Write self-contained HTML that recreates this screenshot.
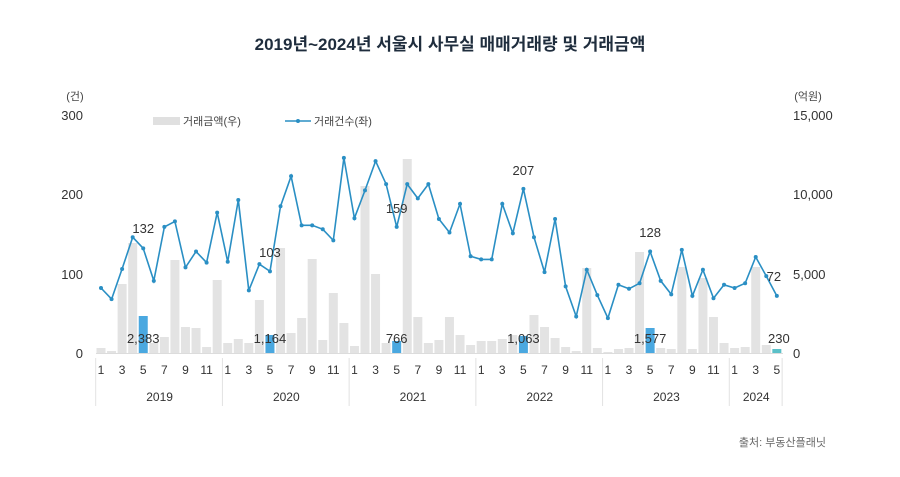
<!DOCTYPE html>
<html><head><meta charset="utf-8"><style>
body{margin:0;background:#fff;}
svg{display:block;font-family:"Liberation Sans","Noto Sans CJK KR",sans-serif;}
</style></head><body>
<svg id="c" width="900" height="477" viewBox="0 0 900 477" xmlns="http://www.w3.org/2000/svg">
<text x="450" y="50" text-anchor="middle" font-size="17" font-weight="bold" fill="#1f2d3d">2019년~2024년 서울시 사무실 매매거래량 및 거래금액</text>
<text x="75" y="100" text-anchor="middle" font-size="11" fill="#444">(건)</text>
<text x="808" y="100" text-anchor="middle" font-size="11" fill="#444">(억원)</text>
<g font-size="13" fill="#333" text-anchor="end">
<text x="83" y="120">300</text><text x="83" y="199">200</text><text x="83" y="279">100</text><text x="83" y="358">0</text>
</g>
<g font-size="13" fill="#333">
<text x="793" y="120">15,000</text><text x="793" y="199">10,000</text><text x="793" y="279">5,000</text><text x="793" y="358">0</text>
</g>
<rect x="153" y="117" width="27" height="8" fill="#e0e0e0"/>
<text x="183" y="125" font-size="11" fill="#444">거래금액(우)</text>
<line x1="285" y1="121" x2="311" y2="121" stroke="#2a8fc4" stroke-width="1.5"/>
<circle cx="298" cy="121" r="2" fill="#2a8fc4"/>
<text x="314" y="125" font-size="11" fill="#444">거래건수(좌)</text>
<text x="826" y="446" text-anchor="end" font-size="11" fill="#666">출처: 부동산플래닛</text>
<g id="g"></g>
</svg>
<script>
var line=[82,68,106,146,132,91,159,166,108,128,114,177,115,193,79,112,103,185,223,161,161,156,142,246,170,205,242,213,159,213,195,213,169,152,188,122,118,118,188,151,207,146,102,169,84,46,105,73,44,86,81,88,128,91,74,130,72,105,69,86,82,88,121,97,72];
var bars=[348,351,284,243,316,343,337,260,327,328,347,280,343,339,343,300,335,248,333,318,259,340,293,323,346,186,274,343,341,159,317,343,340,317,335,345,341,341,339,335,336,315,327,338,347,351,268,348,352,349,348,252,328,348,349,267,349,278,317,343,348,347,267,345,349];
var g=document.getElementById('g'),s='';
function X(i){return 101+i*10.56;}
function Y(v){return 353-v*0.793;}
for(var i=0;i<65;i++){
 var m=i%12, blue=(m==4);
 var col=blue?'#4aa8e0':'#e3e3e3';
 if(i==64)col='#5bc0c8';
 s+='<rect x="'+(X(i)-4.5)+'" y="'+bars[i]+'" width="9" height="'+(353-bars[i])+'" fill="'+col+'"/>';
}
var p='';
for(var i=0;i<65;i++){p+=(i?'L':'M')+X(i).toFixed(1)+','+Y(line[i]).toFixed(1);}
s+='<path d="'+p+'" fill="none" stroke="#2a8fc4" stroke-width="1.6"/>';
for(var i=0;i<65;i++)s+='<circle cx="'+X(i)+'" cy="'+Y(line[i])+'" r="2" fill="#2a8fc4"/>';
// month labels
for(var i=0;i<65;i++){var m=i%12;if(m%2==0)s+='<text x="'+X(i)+'" y="374" text-anchor="middle" font-size="12" fill="#333">'+(m+1)+'</text>';}
var yrs=['2019','2020','2021','2022','2023','2024'];
for(var k=0;k<6;k++){
 var a=X(k*12)-4, b=(k<5)?X(k*12+11)+5:X(64)+5;
 s+='<text x="'+((a+b)/2)+'" y="401" text-anchor="middle" font-size="12" fill="#333">'+yrs[k]+'</text>';
}
for(var k=0;k<=6;k++){var x=(k<6)?X(k*12)-5.3:X(64)+5.3;s+='<line x1="'+x+'" y1="358" x2="'+x+'" y2="406" stroke="#e2e2e2"/>';}
s+='<line x1="96" y1="353.5" x2="783" y2="353.5" stroke="#dcdcdc"/>';
var lab=[[4,'132',233],[16,'103',257],[28,'159',213],[40,'207',175],[52,'128',237],[64,'72',281]];
lab.forEach(function(l){s+='<text x="'+(X(l[0])+(l[0]==64?-3:0))+'" y="'+l[2]+'" text-anchor="middle" font-size="13" fill="#333">'+l[1]+'</text>';});
var lb=[[4,'2,383'],[16,'1,164'],[28,'766'],[40,'1,063'],[52,'1,577'],[64,'230']];
lb.forEach(function(l){s+='<text x="'+(X(l[0])+(l[0]==64?2:0))+'" y="343" text-anchor="middle" font-size="13" fill="#333">'+l[1]+'</text>';});
g.innerHTML=s;
</script>
</body></html>
